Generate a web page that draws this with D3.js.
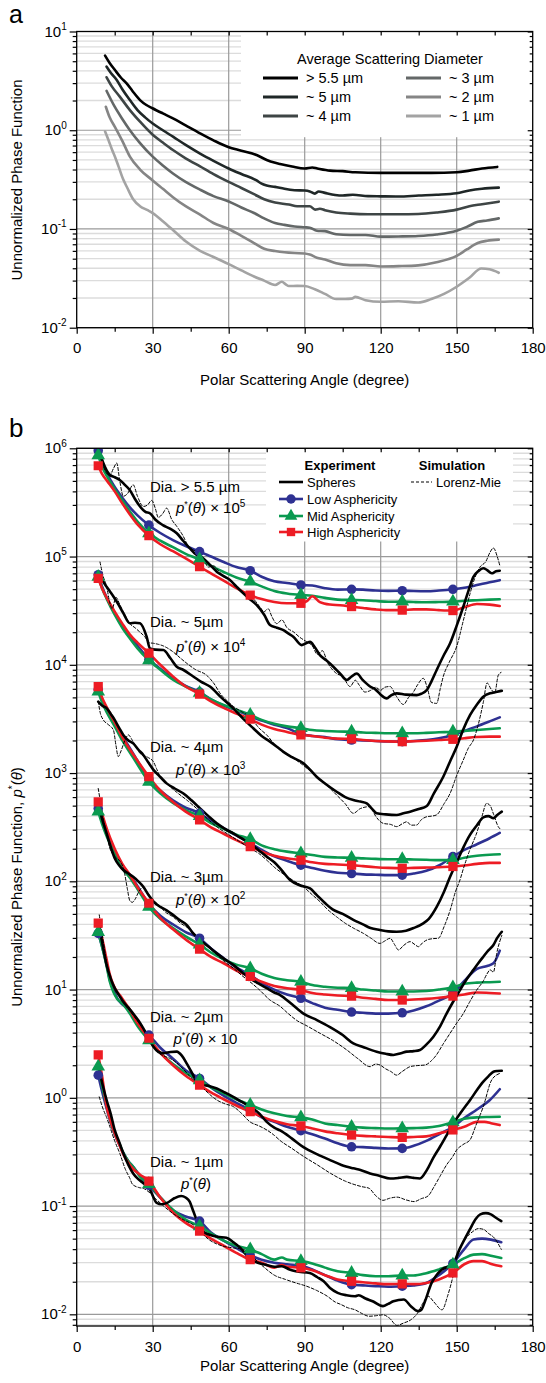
<!DOCTYPE html>
<html lang="en">
<head>
<meta charset="UTF-8">
<title>Phase function</title>
<style>
  body { margin: 0; background: #fff; }
  svg { display: block; }
</style>
</head>
<body>
<script src="https://d3js.org/d3.v7.min.js"></script>
<script>
// ---------- panel a : average scattering diameter ----------
var aLabels = ["> 5.5 \u00b5m", "~ 5 \u00b5m", "~ 4 \u00b5m", "~ 3 \u00b5m", "~ 2 \u00b5m", "~ 1 \u00b5m"];
var aColors = ["#000000", "#1f2727", "#3e4545", "#646868", "#858585", "#a3a3a3"];

var a55 = [[11.2,5.7],[13,4.8],[15.1,4.07],[17.5,3.4],[19.7,2.98],[22,2.5],[25,2.02],[27.5,1.8],[29.9,1.67],[34,1.48],[38,1.32],[43,1.12],[48.7,0.93],[54,0.79],[59.8,0.676],[65,0.62],[71,0.561],[75,0.5],[78,0.47],[80.3,0.455],[85,0.43],[90,0.41],[93,0.42],[95,0.41],[100,0.39],[105,0.385],[110,0.375],[120,0.37],[130,0.37],[140,0.37],[150,0.375],[155,0.39],[160,0.41],[166,0.425]];
var a5 = [[11.8,4.4],[13.5,3.8],[15.8,3.23],[18,2.6],[21,2.02],[24,1.6],[27,1.35],[30,1.17],[34,1.0],[38,0.86],[43,0.71],[48.7,0.58],[54,0.49],[60,0.41],[65,0.36],[71,0.31],[72.8,0.289],[75,0.275],[78.3,0.267],[82,0.255],[86,0.247],[90,0.245],[92,0.24],[94,0.228],[95.5,0.24],[98,0.232],[102,0.221],[105,0.218],[109,0.222],[115,0.215],[120,0.214],[127,0.213],[135,0.218],[142,0.222],[150,0.23],[155,0.245],[160,0.255],[166.6,0.262]];
var a4 = [[11.8,3.44],[14,2.75],[17,2.19],[21,1.6],[25,1.22],[30,0.9],[34,0.75],[38,0.63],[43,0.52],[48.7,0.43],[54,0.36],[60,0.3],[65,0.26],[70,0.225],[74,0.2],[78.3,0.185],[83.8,0.177],[87,0.17],[90,0.17],[92,0.17],[94.1,0.157],[96,0.16],[98,0.155],[102.4,0.147],[108,0.143],[115,0.141],[120,0.141],[127,0.141],[134.8,0.142],[142,0.147],[150,0.157],[155,0.17],[160,0.178],[166.6,0.189]];
var a3 = [[11.8,2.5],[15,1.73],[18,1.3],[21,1.0],[25,0.74],[30,0.54],[34,0.44],[38,0.365],[43,0.3],[48.7,0.25],[54,0.215],[60,0.19],[65,0.165],[70,0.145],[74,0.128],[78.3,0.115],[82,0.11],[86,0.106],[90,0.104],[92,0.103],[94.8,0.096],[98,0.095],[102.4,0.0885],[108,0.087],[114,0.087],[120,0.0836],[127,0.084],[134.8,0.085],[142,0.088],[150,0.096],[154,0.105],[158.3,0.118],[162,0.122],[166.6,0.128]];
var a2 = [[11.5,1.73],[13,1.35],[15,1.09],[18,0.78],[21,0.54],[25,0.4],[30,0.31],[34,0.255],[38,0.21],[43,0.17],[48.7,0.14],[54,0.115],[60,0.1],[65,0.085],[70,0.072],[74,0.063],[78.3,0.0598],[82,0.058],[86,0.057],[90,0.0565],[92,0.055],[94.8,0.0512],[98,0.049],[102.4,0.0449],[108,0.043],[114,0.043],[120,0.0417],[127,0.042],[134.8,0.0428],[142,0.046],[150,0.0533],[154,0.062],[158.3,0.072],[162,0.076],[166.6,0.078]];
var a1 = [[11.2,0.97],[12.5,0.8],[14,0.63],[15.1,0.54],[16.5,0.43],[18.3,0.32],[20,0.26],[22.3,0.2],[25,0.17],[28,0.155],[30,0.145],[34,0.12],[38.3,0.096],[43,0.075],[48.7,0.06],[54,0.052],[60,0.044],[65,0.038],[70,0.033],[74,0.03],[78.3,0.0271],[81,0.0292],[82.5,0.0275],[83.8,0.0264],[87,0.0265],[90,0.0264],[94,0.0245],[98,0.022],[102.4,0.0195],[106,0.0195],[108.5,0.0197],[110,0.0205],[114,0.019],[120,0.0183],[127,0.0185],[134.8,0.018],[140,0.0195],[145,0.022],[150,0.026],[155,0.032],[159.7,0.0398],[163,0.039],[166.6,0.036]];

// ---------- panel b : six size groups ----------
var markerAngles = [8.5, 28.5, 48.5, 68.5, 88.5, 108.5, 128.5, 148.5];
var groupTitles = ["Dia. > 5.5 \u00b5m", "Dia. ~ 5\u00b5m", "Dia. ~ 4\u00b5m", "Dia. ~ 3\u00b5m", "Dia. ~ 2\u00b5m", "Dia. ~ 1\u00b5m"];
var groupFactors = ["5", "4", "3", "2", "", null];

// > 5.5 um (x 1e5)
var g1Blue = [[8.5,9.5e5],[10,7.5e5],[12,5.8e5],[15,4.4e5],[18,3.5e5],[21,2.85e5],[24,2.4e5],[28.5,1.95e5],[33,1.65e5],[38,1.42e5],[43,1.25e5],[48.5,1.11e5],[53,1e5],[58,8.9e4],[63,8e4],[68.5,7.4e4],[73,6.5e4],[78,5.9e4],[83,5.7e4],[88.5,5.46e4],[93,5.4e4],[98,5.1e4],[103,4.95e4],[108.5,4.98e4],[113,4.95e4],[118,4.85e4],[123,4.82e4],[128.5,4.84e4],[133,4.8e4],[138,4.78e4],[143,4.85e4],[148.5,4.98e4],[153,5.15e4],[158,5.45e4],[163,5.8e4],[167,6.05e4]];
var g1Green = [[8.5,8.6e5],[10,6.8e5],[12,5.5e5],[15,4.2e5],[18,3.3e5],[21,2.6e5],[24,2.1e5],[28.5,1.64e5],[33,1.4e5],[38,1.22e5],[43,1.06e5],[48.5,9.4e4],[53,8.2e4],[58,7.2e4],[63,6.4e4],[68.5,5.86e4],[73,5.3e4],[78,4.8e4],[83,4.55e4],[88.5,4.41e4],[93,4.35e4],[98,4.15e4],[103,4e4],[108.5,3.97e4],[113,3.95e4],[118,3.88e4],[123,3.82e4],[128.5,3.83e4],[133,3.8e4],[138,3.78e4],[143,3.8e4],[148.5,3.83e4],[153,3.9e4],[158,3.95e4],[163,4e4],[167,4.03e4]];
var g1Red = [[8.5,6.9e5],[10,5.8e5],[12,5e5],[15,4e5],[18,3.1e5],[21,2.45e5],[24,1.98e5],[28.5,1.56e5],[33,1.3e5],[38,1.12e5],[43,9.6e4],[48.5,8.05e4],[53,7e4],[58,6e4],[63,5.1e4],[68.5,4.41e4],[73,4.05e4],[78,3.8e4],[83,3.7e4],[88.5,3.7e4],[91,3.9e4],[93,4.3e4],[96,3.8e4],[100,3.6e4],[104,3.55e4],[108.5,3.45e4],[113,3.35e4],[118,3.25e4],[123,3.2e4],[128.5,3.2e4],[133,3.25e4],[138,3.25e4],[143,3.2e4],[148.5,3.17e4],[153,3.4e4],[158,3.65e4],[163,3.6e4],[167,3.49e4]];
var g1Sphere = [[9,9.3e5],[10.5,7.3e5],[13,5.7e5],[15,5.4e5],[17,5.1e5],[19,4.6e5],[21,4.1e5],[23,3.4e5],[25,2.9e5],[27,2.6e5],[29,2.5e5],[31,2.2e5],[34,1.95e5],[37,1.8e5],[39.5,1.64e5],[42,1.4e5],[44.7,1.19e5],[47,1.05e5],[50,9.6e4],[53,8.2e4],[55.3,7.25e4],[58,6.6e4],[60.5,6.07e4],[63,5.3e4],[65.8,4.57e4],[68,4.1e4],[71,3.57e4],[74,2.9e4],[76.3,2.33e4],[79,2.2e4],[81.6,2.09e4],[83.5,1.95e4],[85.5,1.82e4],[88.8,1.52e4],[92.1,1.63e4],[94,1.45e4],[96,1.23e4],[98.5,1.1e4],[101.3,9.6e3],[104,8.3e3],[106.6,7.24e3],[108.5,7.8e3],[110.5,8.3e3],[113,7.2e3],[115.8,6.3e3],[118,5.9e3],[120,5.3e3],[122.4,4.9e3],[124,5.2e3],[126.3,5.45e3],[130,5.3e3],[134.2,5.25e3],[136,5.4e3],[138.2,5.85e3],[140,7e3],[142.1,8.95e3],[144.7,1.2e4],[147.4,1.58e4],[150,2.3e4],[152.6,3.44e4],[154.6,4.8e4],[156.6,6.5e4],[158.5,7.3e4],[160.5,7.8e4],[162,7.5e4],[163.8,7e4],[165.5,7.3e4],[167,7.4e4]];
var g1Mie = [[8.5,9e5],[10,7.5e5],[11.5,6e5],[13,5.6e5],[14.5,6.5e5],[15.8,7.3e5],[17,5e5],[18.4,3.6e5],[20,3.8e5],[22.3,4.6e5],[24,3.6e5],[26.3,2.9e5],[28,3e5],[29.6,3.3e5],[31,2.8e5],[32.2,2.3e5],[34,2.5e5],[35.5,2.8e5],[37.5,2.2e5],[39.5,1.9e5],[42,1.55e5],[44,1.25e5],[46,1.15e5],[48,1.1e5],[50,9.5e4],[52,8e4],[54,8.2e4],[56,7.4e4],[58,6.5e4],[60,6.2e4],[62,5.6e4],[64,5.1e4],[66,4.6e4],[68,4.2e4],[70,4e4],[72,3.5e4],[74,3.1e4],[75.6,3.3e4],[77,2.8e4],[79,2.4e4],[81,2.6e4],[83,2.2e4],[85.5,2.02e4],[88,1.8e4],[90.8,1.63e4],[93,1.5e4],[95,1.25e4],[97,1.35e4],[99,1.05e4],[101,9e3],[102.6,8.3e3],[105,7.8e3],[107.9,6.3e3],[110,7.2e3],[111.5,6.5e3],[113.8,5.6e3],[116,5.8e3],[118,6.2e3],[120,5.8e3],[121.5,6.2e3],[123.7,6.3e3],[126,5.2e3],[129,4.3e3],[131,5e3],[132.9,5.6e3],[134.5,6.5e3],[136.8,7.5e3],[138.5,6e3],[140,4.5e3],[142.1,4.4e3],[143.5,6e3],[144.7,7.8e3],[147,1.05e4],[150,1.48e4],[152.5,2.5e4],[155.3,4.57e4],[157,6.2e4],[159.2,8e4],[161.5,9e4],[163.2,1.1e5],[164.5,1.2e5],[166,1e5],[167,8.3e4]];

// ~ 5 um (x 1e4)
var g2Blue = [[8.5,6.8e4],[10,5.3e4],[12,4.1e4],[15,3e4],[18,2.3e4],[21,1.85e4],[24,1.5e4],[28.5,1.12e4],[33,9.2e3],[38,7.5e3],[43,6.4e3],[48.5,5.6e3],[53,4.8e3],[58,4.2e3],[63,3.8e3],[68.5,3.35e3],[73,3.05e3],[78,2.8e3],[83,2.6e3],[88.5,2.3e3],[93,2.2e3],[98,2.15e3],[103,2.05e3],[108.5,2.02e3],[113,2e3],[118,1.98e3],[123,1.96e3],[128.5,1.95e3],[133,1.98e3],[138,2.02e3],[143,2.1e3],[148.5,2.25e3],[153,2.45e3],[158,2.7e3],[163,3e3],[167,3.27e3]];
var g2Green = [[8.5,6.5e4],[10,5.1e4],[12,4e4],[15,2.9e4],[18,2.2e4],[21,1.75e4],[24,1.42e4],[28.5,1.1e4],[33,9e3],[38,7.3e3],[43,6.3e3],[48.5,5.5e3],[53,4.8e3],[58,4.25e3],[63,3.85e3],[68.5,3.45e3],[73,3.1e3],[78,2.85e3],[83,2.7e3],[88.5,2.6e3],[93,2.5e3],[98,2.45e3],[103,2.42e3],[108.5,2.41e3],[113,2.37e3],[118,2.35e3],[123,2.33e3],[128.5,2.33e3],[133,2.33e3],[138,2.35e3],[143,2.38e3],[148.5,2.41e3],[153,2.45e3],[158,2.5e3],[163,2.55e3],[167,2.59e3]];
var g2Red = [[8.5,6.3e4],[10,5.1e4],[12,4.1e4],[15,3.1e4],[18,2.4e4],[21,1.9e4],[24,1.6e4],[28.5,1.28e4],[33,1e4],[38,7.8e3],[43,6.3e3],[48.5,5.37e3],[53,4.6e3],[58,4e3],[63,3.55e3],[68.5,3.14e3],[73,2.8e3],[78,2.55e3],[83,2.4e3],[88.5,2.25e3],[93,2.2e3],[98,2.12e3],[103,2.08e3],[108.5,2.07e3],[113,2.02e3],[118,1.98e3],[123,1.96e3],[128.5,1.95e3],[133,1.97e3],[138,1.99e3],[143,2.02e3],[148.5,2.05e3],[153,2.1e3],[158,2.15e3],[163,2.17e3],[167,2.17e3]];
var g2Sphere = [[9.2,6.5e4],[11,5.6e4],[13,4.8e4],[14.5,4.27e4],[16.5,3.6e4],[18.4,3e4],[21,2.42e4],[23,2.45e4],[25,2.42e4],[27.6,1.82e4],[28.9,1.42e4],[31,1.38e4],[34.2,1.37e4],[37,1.15e4],[39.5,9.6e3],[42,9e3],[46,7.8e3],[49,7e3],[52.6,6.3e3],[57,5e3],[61.8,3.96e3],[65,3.3e3],[69.7,2.59e3],[73,2.2e3],[76.3,1.95e3],[79,1.75e3],[81.6,1.57e3],[85,1.4e3],[89.5,1.23e3],[92,1.08e3],[94.7,925],[98,800],[102.6,672],[106,600],[109.2,564],[112,545],[114.5,525],[116.5,470],[118.4,425],[122,415],[126.3,410],[129,425],[131.6,440],[135,465],[138.2,496],[141,650],[144.7,925],[147.5,1.3e3],[150,1.75e3],[152.5,2.5e3],[155.3,3.44e3],[158,4.3e3],[160.5,5.07e3],[163.2,5.45e3],[165.5,5.6e3],[167.8,5.76e3]];
var g2Mie = [[9.2,8.9e4],[10.5,6.5e4],[11.8,5.3e4],[13,3.8e4],[14,3.3e4],[15.5,4.2e4],[17,3.6e4],[19,2.9e4],[21,2.4e4],[23,2.2e4],[25,2e4],[27,1.8e4],[28.5,1.6e4],[30.3,1.58e4],[32,1.55e4],[34,1.5e4],[36,1.42e4],[38,1.32e4],[41,1.15e4],[43.5,1.03e4],[47,9e3],[51.3,8e3],[54,6.8e3],[57,5.3e3],[59.2,4.7e3],[62,4.1e3],[65,3.7e3],[68.4,3.3e3],[72,2.6e3],[75,2.25e3],[78.9,1.75e3],[83,1.5e3],[86,1.35e3],[89,1.2e3],[93.4,993],[98,800],[102.6,627],[106,520],[109.2,425],[112,470],[115.8,490],[118,400],[121,343],[124,335],[126.3,320],[128.5,340],[130.3,355],[132,330],[134.2,331],[136,370],[138.2,395],[140,400],[142,410],[145,520],[147.4,650],[150,950],[152.6,1.32e3],[154.6,1.7e3],[156.6,2.02e3],[158.5,2.8e3],[160.5,4.5e3],[162,6.8e3],[163.5,6e3],[165,5.5e3],[166.4,8e3],[167.5,8.5e3]];

// ~ 4 um (x 1e3)
var g3Blue = [[8.5,5.9e3],[10,4.8e3],[12,3.9e3],[15,2.9e3],[18,2.2e3],[21,1.7e3],[24,1.3e3],[28.5,880],[33,690],[38,560],[43,480],[48.5,425],[53,360],[58,310],[63,265],[68.5,225],[73,195],[78,170],[83,155],[88.5,141],[93,133],[98,125],[103,120],[108.5,118],[113,116],[118,115],[123,114],[128.5,114],[133,118],[138,125],[143,140],[148.5,169],[153,195],[158,220],[163,250],[167,280]];
var g3Green = [[8.5,5.65e3],[10,4.5e3],[12,3.6e3],[15,2.7e3],[18,2e3],[21,1.55e3],[24,1.2e3],[28.5,832],[33,650],[38,530],[43,455],[48.5,400],[53,345],[58,305],[63,270],[68.5,245],[73,215],[78,198],[83,188],[88.5,181],[93,175],[98,168],[103,166],[108.5,165],[113,163],[118,161],[123,160],[128.5,160],[133,159],[138,158],[143,157],[148.5,157],[153,165],[158,172],[163,176],[167,178]];
var g3Red = [[8.5,6.28e3],[10,5e3],[12,4e3],[15,2.95e3],[18,2.15e3],[21,1.65e3],[24,1.3e3],[28.5,926],[33,690],[38,540],[43,440],[48.5,369],[53,315],[58,275],[63,240],[68.5,209],[73,188],[78,172],[83,163],[88.5,157],[93,150],[98,145],[103,143],[108.5,141],[113,138],[118,135],[123,133],[128.5,132],[133,133],[138,134],[143,135],[148.5,137],[153,140],[158,145],[163,148],[167,148]];
var g3Sphere = [[8.5,4.57e3],[10,4.2e3],[11.8,3.98e3],[13.5,3.5e3],[15,3.1e3],[16.8,2.6e3],[18.4,2.25e3],[20.4,2e3],[22.3,1.88e3],[24.3,1.65e3],[26.3,1.47e3],[28.3,1.25e3],[30.3,1.07e3],[33,920],[35.5,803],[38.7,720],[42,650],[45.3,560],[48.7,472],[52,400],[55.3,343],[58.5,305],[61.8,277],[65,250],[68.4,224],[71.7,195],[75,169],[78,150],[80.3,132],[84.2,103],[88,92],[92.1,86],[94.7,75],[98,63],[101,55],[105,50],[109.2,44],[113,40],[116,37],[119.7,35.5],[123,34.5],[126.3,34.2],[130,35],[133,37],[136.8,40.9],[139,45],[142.1,58],[145,80],[147.4,110],[150,150],[152.6,205],[155.3,270],[158,330],[160.5,390],[162.5,400],[164.5,382],[166,410],[167.8,440]];
var g3Mie = [[8.5,4.6e3],[9.3,3.6e3],[10.5,3.1e3],[12.5,2.8e3],[14.5,2.5e3],[15.5,1.8e3],[16.4,1.42e3],[17.5,1.6e3],[19,2e3],[20.4,2.25e3],[22,2e3],[25,1.52e3],[28,1.4e3],[30.3,1.27e3],[31.5,1.1e3],[32.9,926],[36,780],[40,650],[44,550],[48.7,440],[52,370],[56,310],[60,270],[64,235],[68,205],[72,180],[75,157],[78,135],[82,115],[86,100],[89.5,89],[93,75],[96,65],[99,55],[102.6,47],[106,41],[109.2,37],[113.2,33],[116,30],[119.7,26.7],[121.5,28],[123.7,29.8],[125.5,26],[127,23.2],[129,25.5],[131.6,27.7],[133.5,26],[134.9,24.9],[136.5,27],[138.2,28.7],[140.5,29.5],[142.8,29.8],[145,38],[147.4,54],[149.5,80],[151.3,103],[152.6,130],[155,190],[157.9,280],[160,400],[161.8,525],[163.2,500],[164.5,420],[166.4,320],[167.5,300]];

// ~ 3 um (x 1e2)
var g4Blue = [[8.5,470],[10,360],[12,270],[15,190],[18,140],[21,115],[24,90],[28.5,62],[33,48],[38,40],[43,34],[48.5,29.8],[53,24],[58,19.5],[63,16],[68.5,13.6],[73,11.5],[78,10],[83,9],[88.5,8.3],[93,7.5],[98,6.8],[103,6.5],[108.5,6.2],[113,6.1],[118,6],[123,6],[128.5,6.1],[133,6.4],[138,7],[143,7.9],[148.5,9.2],[153,12],[158,15.5],[162,16.5],[164.5,17.5],[167,22.9]];
var g4Green = [[8.5,440],[10,340],[12,255],[15,180],[18,132],[21,108],[24,85],[28.5,58],[33,45],[38,37],[43,31],[48.5,26],[53,22],[58,19],[63,17],[68.5,15.7],[73,14],[78,12.8],[83,12.2],[88.5,11.8],[93,11],[98,10.6],[103,10.4],[108.5,10.3],[113,10],[118,9.8],[123,9.6],[128.5,9.6],[133,9.6],[138,9.7],[143,10],[148.5,10.5],[153,11.3],[158,11.6],[163,11.7],[167,11.8]];
var g4Red = [[8.5,543],[10,420],[12,300],[15,200],[18,145],[21,115],[24,88],[28.5,62.7],[33,46],[38,36],[43,29],[48.5,23.6],[53,20],[58,17.5],[63,15],[68.5,13.2],[73,11.8],[78,10.8],[83,10.3],[88.5,9.9],[93,9.3],[98,9],[103,8.8],[108.5,8.7],[113,8.4],[118,8.2],[123,8],[128.5,8],[133,8.1],[138,8.2],[143,8.4],[148.5,8.7],[153,9],[158,9.4],[163,9.3],[167,9.2]];
var g4Sphere = [[8.5,525],[10,380],[11.8,277],[13.5,205],[15,163],[16.8,140],[18.4,127],[20.4,118],[22.3,110],[24.3,100],[26.3,89],[28.3,75],[30.3,65],[33,58],[35.5,54],[38,49],[40.5,44],[43.4,39.5],[46,33],[48.7,28.7],[52,25],[55.3,21.6],[58.5,19],[61.8,16.9],[65,14.6],[68.4,12.7],[71.7,11.4],[75,10.3],[78,9.4],[80.3,8.9],[85,7.3],[89.5,6],[95,5.2],[100,4.5],[105,3.8],[109.2,3.18],[113,2.95],[118.4,2.67],[122,2.55],[125,2.49],[128,2.58],[130.3,2.67],[133,2.7],[135.5,2.77],[138,3.1],[140.8,3.67],[143.5,4.6],[146,6],[148.7,7.8],[151.3,9.9],[154,12.5],[156.6,15.2],[158.5,17.5],[160.5,20.1],[162.5,23],[164.5,25.8],[166,30],[167.8,34.2]];
var g4Mie = [[8.5,720],[9.5,520],[10.5,380],[12,260],[13.1,202],[15,170],[17.7,146],[19,115],[20,85],[21,66],[22,64],[23,68],[24.5,80],[26.3,89],[28,78],[30,68],[32.5,60],[35,52],[38,47],[41,41],[44,37],[48.7,29],[52,24.5],[55.3,21],[58.5,18],[61.8,15.8],[65,13.6],[68.4,11.8],[72,10],[76.3,8],[80.3,7],[83.5,6],[86.8,5.2],[91,4.6],[96,3.95],[101,3.4],[106.6,2.77],[111,2.3],[115.8,1.94],[118,2.05],[119.7,2.01],[122,1.85],[124,1.75],[126.3,1.62],[128.5,1.75],[131.6,1.94],[134,1.98],[137.5,2.01],[140,2.2],[142,2.49],[144.5,3.1],[147.4,3.95],[150,4.9],[152.6,6],[155,7.6],[157.9,9.9],[160.5,12],[162,14],[163.2,15.2],[164.5,14.5],[165.8,21.6],[167.8,31.6]];

// ~ 2 um (x 10)
var g5Blue = [[8.5,33],[10,25],[11.8,17],[13,12.5],[14.5,10],[16,8.3],[17.5,7.5],[19,7],[21,6.2],[24,4.8],[28.5,3.8],[33,2.9],[38,2.3],[43,1.8],[48.5,1.51],[53,1.25],[58,1.05],[63,0.9],[68.5,0.77],[73,0.66],[78,0.6],[83,0.54],[88.5,0.497],[93,0.46],[98,0.42],[103,0.38],[108.5,0.353],[113,0.35],[118,0.345],[123,0.34],[128.5,0.341],[133,0.36],[138,0.4],[143,0.46],[148.5,0.54],[153,0.65],[158,0.78],[163,0.95],[167,1.2]];
var g5Green = [[8.5,34],[10,25],[11.8,16.5],[13,12],[14.5,9.5],[16,8.2],[17.5,7.6],[19,7],[21,6],[24,4.6],[28.5,3.4],[33,2.6],[38,2.05],[43,1.7],[48.5,1.45],[53,1.25],[58,1.1],[63,0.97],[68.5,0.86],[73,0.78],[78,0.72],[83,0.68],[88.5,0.66],[93,0.63],[98,0.58],[103,0.56],[108.5,0.54],[113,0.53],[118,0.525],[123,0.52],[128.5,0.522],[133,0.525],[138,0.53],[143,0.55],[148.5,0.594],[153,0.64],[158,0.66],[163,0.665],[167,0.668]];
var g5Red = [[8.5,41],[10,30],[11.8,19],[13,14],[14.5,11],[16,9.5],[17.5,8.6],[19,7.6],[21,6.5],[24,4.9],[28.5,3.55],[33,2.6],[38,2],[43,1.6],[48.5,1.31],[53,1.12],[58,0.97],[63,0.85],[68.5,0.745],[73,0.67],[78,0.61],[83,0.57],[88.5,0.55],[93,0.52],[98,0.49],[103,0.47],[108.5,0.453],[113,0.445],[118,0.44],[123,0.435],[128.5,0.431],[133,0.435],[138,0.44],[143,0.47],[148.5,0.505],[153,0.54],[158,0.6],[161,0.6],[164,0.58],[167,0.56]];
var g5Sphere = [[8.9,38],[10.5,24],[11.8,16.9],[13.5,12.5],[15,10.3],[16.8,8.8],[18.4,7.7],[20.4,6.8],[22.3,6],[24.3,5.2],[26.3,4.38],[28.3,3.6],[30.3,2.96],[32.3,2.65],[34.2,2.58],[37,2.65],[39.5,2.67],[41.5,2.45],[43.4,2.08],[45.5,1.7],[47.4,1.41],[50,1.32],[52.5,1.28],[55.3,1.22],[58.5,1.12],[61.8,1.02],[65,0.92],[68.4,0.83],[71.7,0.73],[75,0.6],[78,0.53],[80.3,0.5],[85,0.42],[89.5,0.35],[95,0.3],[100,0.266],[104.5,0.24],[109.2,0.223],[112,0.215],[115.8,0.2],[119.7,0.19],[123.7,0.18],[127,0.182],[130.3,0.186],[133,0.182],[135.5,0.18],[138.2,0.215],[140.8,0.28],[143.4,0.353],[146,0.45],[148.7,0.58],[152,0.75],[155.3,0.955],[158,1.18],[160.5,1.41],[162.5,1.58],[164.5,1.74],[166,1.77],[167.8,1.78]];
var g5Mie = [[8.9,49],[10.5,28],[11.8,18],[13.5,12.5],[15,10.5],[16.8,8.8],[18.4,7.6],[20.4,6.6],[22.3,5.8],[24.3,5],[26.3,4.3],[28.3,3.6],[30.3,3],[32.3,2.6],[34.2,2.45],[37,2.3],[39.5,2.1],[42,1.85],[45,1.55],[48.7,1.31],[52,1.1],[55.3,0.955],[58.5,0.88],[61.8,0.83],[65,0.72],[68.4,0.6],[72,0.55],[75,0.505],[78,0.45],[80.3,0.403],[85,0.34],[89.3,0.29],[95,0.24],[100.3,0.2],[106,0.17],[112.6,0.151],[115.4,0.146],[118,0.125],[120.9,0.113],[123.5,0.118],[126.4,0.121],[130,0.114],[133.2,0.11],[136,0.117],[138.7,0.124],[141,0.15],[143.5,0.19],[146,0.24],[148.4,0.286],[150,0.33],[152.5,0.37],[155.3,0.41],[157.5,0.55],[160.5,0.83],[163.8,1.46],[167,1.68]];

// ~ 1 um (x 1)
var g6Blue = [[8.5,1.62],[10,1.15],[11.8,0.8],[13.5,0.58],[15,0.46],[16.8,0.37],[18.4,0.31],[20.4,0.26],[22.3,0.23],[25,0.19],[28.5,0.155],[33,0.12],[38.5,0.09],[43,0.08],[48.5,0.0726],[53,0.057],[58,0.048],[63,0.041],[68.5,0.035],[73,0.032],[78,0.03],[83,0.029],[88.5,0.0282],[93,0.026],[98,0.023],[103,0.0205],[108.5,0.0188],[113,0.0185],[118,0.0182],[123,0.018],[128.5,0.0182],[133,0.0185],[138,0.0195],[143,0.023],[148.5,0.0295],[153,0.04],[156.6,0.049],[160,0.05],[163.5,0.049],[167.6,0.0464]];
var g6Green = [[8.5,1.94],[10,1.3],[11.8,0.85],[13.5,0.6],[15,0.47],[16.8,0.38],[18.4,0.31],[20.4,0.26],[22.3,0.23],[25,0.187],[28.5,0.16],[33,0.12],[38.5,0.09],[43,0.075],[48.5,0.065],[53,0.056],[58,0.048],[63,0.043],[68.5,0.0398],[73,0.036],[78,0.032],[81,0.0335],[83,0.032],[88.5,0.031],[93,0.0295],[98,0.027],[103,0.025],[108.5,0.0241],[113,0.023],[118,0.0225],[123,0.0225],[128.5,0.0228],[133,0.0228],[138,0.024],[143,0.026],[148.5,0.0288],[153,0.033],[156.6,0.0356],[160,0.036],[164,0.0345],[167.6,0.0332]];
var g6Red = [[8.5,2.49],[10,1.6],[11.8,0.83],[13.5,0.6],[15,0.47],[16.8,0.37],[18.4,0.3],[20.4,0.25],[22.3,0.22],[25,0.195],[28.5,0.17],[33,0.12],[38.5,0.085],[43,0.07],[48.5,0.0587],[53,0.05],[58,0.043],[63,0.037],[68.5,0.032],[73,0.03],[78,0.027],[81,0.0285],[83,0.0275],[88.5,0.0269],[93,0.0255],[98,0.023],[103,0.021],[108.5,0.0202],[113,0.0198],[118,0.0193],[123,0.019],[128.5,0.0191],[133,0.019],[138,0.0195],[143,0.021],[148.5,0.0241],[153,0.029],[156.6,0.031],[160,0.031],[164,0.029],[167.6,0.0278]];
var g6Sphere = [[8.9,1.81],[10.3,1.3],[11.8,0.955],[13.5,0.7],[15,0.505],[16.8,0.39],[18.4,0.307],[20.4,0.24],[22.3,0.2],[24,0.18],[26,0.165],[28.8,0.143],[31.6,0.107],[33.5,0.104],[35.7,0.107],[38.5,0.118],[41.2,0.124],[43,0.12],[44.6,0.11],[46,0.09],[48.1,0.0677],[50,0.058],[52.2,0.0547],[55.5,0.052],[59.1,0.051],[62,0.046],[64.6,0.0411],[68.7,0.032],[71.5,0.03],[74.2,0.0288],[78,0.0275],[81,0.0278],[84,0.026],[86.5,0.025],[92,0.0241],[95,0.022],[97.5,0.0202],[100,0.0175],[103,0.0158],[106.5,0.015],[109.9,0.0147],[111.3,0.015],[114,0.014],[116.8,0.0132],[120.9,0.0119],[123,0.0125],[125,0.0132],[129.1,0.0137],[131.9,0.0119],[134.6,0.0107],[136,0.011],[137.4,0.013],[140.1,0.0195],[142,0.023],[144.2,0.026],[148.4,0.0288],[151.1,0.0398],[155.2,0.0608],[157.5,0.076],[159.3,0.0838],[161.5,0.086],[163.5,0.0838],[165.5,0.078],[167.6,0.0726]];
var g6Mie = [[8.9,1.02],[10.5,0.78],[11.8,0.66],[13.1,0.54],[15,0.4],[17,0.307],[19.2,0.219],[21,0.18],[22,0.159],[24.7,0.148],[26.5,0.145],[28.8,0.133],[31.5,0.115],[34.3,0.1],[38.5,0.0838],[42.5,0.074],[46.7,0.0653],[49.5,0.056],[52.2,0.049],[55,0.045],[57.7,0.0427],[62,0.041],[65.9,0.0397],[70,0.033],[74.2,0.0269],[78,0.023],[82.4,0.021],[86.5,0.0195],[90.7,0.0182],[95,0.0165],[98.9,0.0147],[102,0.013],[104.4,0.0123],[107,0.0115],[109.9,0.011],[112.5,0.0102],[115.4,0.0096],[118,0.0097],[120.9,0.0099],[123.5,0.0092],[126.4,0.0079],[129,0.0083],[131.9,0.0089],[134.6,0.0103],[136.5,0.0125],[138.7,0.0147],[141,0.013],[144.2,0.011],[146.5,0.015],[148.4,0.0217],[151.1,0.0398],[153.5,0.05],[156.6,0.0587],[158.5,0.062],[160.7,0.0608],[162.5,0.056],[164.8,0.0509],[167.6,0.0398]];

var blue = "#2e3192", green = "#0a9a50", red = "#ed1c24";
var font = "'Liberation Sans', Arial, Helvetica, sans-serif";

var svg = d3.select("body").append("svg")
  .attr("width", 546).attr("height", 1383)
  .style("font-family", font);

var xA = d3.scaleLinear().domain([0, 180]).range([76.7, 532.7]);
var yA = d3.scaleLog().domain([1e-2, 10]).range([327.7, 31.5]);
var xB = d3.scaleLinear().domain([0, 180]).range([76.7, 532.7]);
var yB = d3.scaleLog().domain([0.0078, 1e6]).range([1326, 448.3]);

function minorValues(y) {
  var dom = y.domain(), out = [];
  for (var d = -4; d <= 6; d++) {
    for (var k = 2; k <= 9; k++) {
      var v = k * Math.pow(10, d);
      if (v > dom[0] * 1.0001 && v < dom[1] * 0.9999) out.push(v);
    }
  }
  return out;
}
function decades(y) {
  var dom = y.domain(), out = [];
  for (var d = -4; d <= 6; d++) {
    var v = Math.pow(10, d);
    if (v >= dom[0] * 0.9999 && v <= dom[1] * 1.0001) out.push(v);
  }
  return out;
}

function grid(g, x, y, legendBox) {
  var x0 = x.range()[0], x1 = x.range()[1], yb = y.range()[0], yt = y.range()[1];
  g.selectAll(".minor").data(minorValues(y)).enter().append("line")
    .attr("x1", x0).attr("x2", x1).attr("y1", d => y(d)).attr("y2", d => y(d))
    .attr("stroke", "#dcdcdc").attr("stroke-width", 1.3);
  g.selectAll(".major").data(decades(y)).enter().append("line")
    .attr("x1", x0).attr("x2", x1).attr("y1", d => y(d)).attr("y2", d => y(d))
    .attr("stroke", "#9a9a9a").attr("stroke-width", 1.2);
  g.selectAll(".vg").data([30, 60, 90, 120, 150]).enter().append("line")
    .attr("x1", d => x(d)).attr("x2", d => x(d)).attr("y1", yt).attr("y2", yb)
    .attr("stroke", "#9a9a9a").attr("stroke-width", 1.2);
  g.append("rect").attr("x", legendBox[0]).attr("y", legendBox[1])
    .attr("width", legendBox[2]).attr("height", legendBox[3]).attr("fill", "#fff");
}

function axes(g, x, y, titleY) {
  var x0 = x.range()[0], x1 = x.range()[1], yb = y.range()[0], yt = y.range()[1];
  function style(sel) {
    sel.select(".domain").remove();
    sel.selectAll("line").attr("stroke", "#000").attr("stroke-width", 1.2);
    sel.attr("font-family", font).attr("font-size", 15);
    sel.selectAll("text").attr("fill", "#000");
  }
  g.append("g").attr("transform", "translate(0," + yb + ")")
    .call(d3.axisBottom(x).tickValues(d3.range(15, 180, 30)).tickSize(4).tickFormat("")).call(style);
  g.append("g").attr("transform", "translate(0," + yb + ")")
    .call(d3.axisBottom(x).tickValues(d3.range(0, 181, 30)).tickSize(6).tickPadding(9).tickFormat(d3.format("d"))).call(style);
  g.append("g").attr("transform", "translate(0," + yt + ")")
    .call(d3.axisBottom(x).tickValues(d3.range(15, 180, 15)).tickSize(4).tickFormat("")).call(style);
  g.append("g").attr("transform", "translate(" + x0 + ",0)")
    .call(d3.axisLeft(y).tickValues(minorValues(y)).tickSize(4).tickFormat("")).call(style);
  g.append("g").attr("transform", "translate(" + x0 + ",0)")
    .call(d3.axisLeft(y).tickValues(decades(y)).tickSize(7).tickFormat("")).call(style);
  g.append("g").attr("transform", "translate(" + x1 + ",0)")
    .call(d3.axisLeft(y).tickValues(minorValues(y)).tickSize(3).tickFormat("")).call(style);
  g.append("g").attr("transform", "translate(" + x1 + ",0)")
    .call(d3.axisLeft(y).tickValues(decades(y)).tickSize(5).tickFormat("")).call(style);
  // decade labels 10^n
  decades(y).forEach(function (v) {
    var t = g.append("text").attr("x", x0 - 10).attr("y", y(v) + 5)
      .attr("text-anchor", "end").attr("font-size", 15);
    t.append("tspan").text("10");
    t.append("tspan").attr("dy", -6.5).attr("font-size", 10).text(Math.round(Math.log10(v)));
  });
  g.append("rect").attr("x", x0).attr("y", yt).attr("width", x1 - x0).attr("height", yb - yt)
    .attr("fill", "none").attr("stroke", "#000").attr("stroke-width", 1.3);
  g.append("text").attr("x", (x0 + x1) / 2).attr("y", titleY).attr("text-anchor", "middle")
    .attr("font-size", 15).text("Polar Scattering Angle (degree)");
}

function drawLine(g, x, y, data, color, width, dash) {
  var line = d3.line().x(d => x(d[0])).y(d => y(d[1])).curve(d3.curveMonotoneX);
  g.append("path").datum(data).attr("d", line).attr("fill", "none")
    .attr("stroke", color).attr("stroke-width", width)
    .attr("stroke-linejoin", "round").attr("stroke-linecap", "round")
    .attr("stroke-dasharray", dash || null);
}
function drawMarkers(g, x, y, data, color, type, size) {
  var sym = d3.symbol().type(type).size(size);
  g.selectAll(null).data(data.filter(d => markerAngles.indexOf(d[0]) >= 0)).enter()
    .append("path").attr("d", sym)
    .attr("transform", d => "translate(" + x(d[0]) + "," + y(d[1]) + ")")
    .attr("fill", color);
}

// ================= panel a =================
var ga = svg.append("g");
grid(ga, xA, yA, [241, 32.2, 291, 105]);
var aSeries = [a1, a2, a3, a4, a5, a55];
aSeries.forEach(function (s, i) {
  drawLine(ga, xA, yA, s, aColors[5 - i], 2.6);
});
axes(ga, xA, yA, 385);
ga.append("text").attr("x", 9).attr("y", 22.5).attr("font-size", 25).text("a");
ga.append("text").attr("transform", "translate(21.5,180) rotate(-90)")
  .attr("text-anchor", "middle").attr("font-size", 15).text("Unnormalized Phase Function");
// legend a
ga.append("text").attr("x", 390).attr("y", 64).attr("text-anchor", "middle")
  .attr("font-size", 14.5).text("Average Scattering Diameter");
aLabels.forEach(function (lab, i) {
  var col = Math.floor(i / 3), row = i % 3;
  var lx = col === 0 ? 263 : 406, ly = 78 + row * 19;
  ga.append("line").attr("x1", lx).attr("x2", lx + 35).attr("y1", ly).attr("y2", ly)
    .attr("stroke", aColors[i]).attr("stroke-width", 2.8);
  ga.append("text").attr("x", lx + 43).attr("y", ly + 5).attr("font-size", 14.5).text(lab);
});

// ================= panel b =================
var gb = svg.append("g");
grid(gb, xB, yB, [266, 449.5, 247, 92]);
svg.append("clipPath").attr("id", "clipB").append("rect")
  .attr("x", 76.7).attr("y", 448.3).attr("width", 456).attr("height", 1326 - 448.3);
var plotB = gb.append("g").attr("clip-path", "url(#clipB)");

var groups = [
  [g1Blue, g1Green, g1Red, g1Sphere, g1Mie],
  [g2Blue, g2Green, g2Red, g2Sphere, g2Mie],
  [g3Blue, g3Green, g3Red, g3Sphere, g3Mie],
  [g4Blue, g4Green, g4Red, g4Sphere, g4Mie],
  [g5Blue, g5Green, g5Red, g5Sphere, g5Mie],
  [g6Blue, g6Green, g6Red, g6Sphere, g6Mie]
];
groups.forEach(function (s) {
  drawLine(plotB, xB, yB, s[0], blue, 2.6);
  drawLine(plotB, xB, yB, s[1], green, 2.6);
  drawLine(plotB, xB, yB, s[2], red, 2.6);
  drawLine(plotB, xB, yB, s[4], "#000", 1, "3,2");
  drawLine(plotB, xB, yB, s[3], "#000", 2.6);
});
groups.forEach(function (s) {
  drawMarkers(plotB, xB, yB, s[0], blue, d3.symbolCircle, 72);
  drawMarkers(plotB, xB, yB, s[1], green, d3.symbolTriangle, 80);
  drawMarkers(plotB, xB, yB, s[2], red, d3.symbolSquare, 85);
});

axes(gb, xB, yB, 1371);
gb.append("text").attr("x", 9).attr("y", 437).attr("font-size", 26).text("b");
var yt = gb.append("text").attr("transform", "translate(21.5,887) rotate(-90)")
  .attr("text-anchor", "middle").attr("font-size", 15);
yt.append("tspan").text("Unnormalized Phase Function, ");
yt.append("tspan").attr("font-style", "italic").text("p");
yt.append("tspan").attr("dy", -6).attr("font-size", 10).text("*");
yt.append("tspan").attr("dy", 6).text("(");
yt.append("tspan").attr("font-style", "italic").text("\u03b8");
yt.append("tspan").text(")");

// group annotations
var titleBase = [492, 627, 752, 882, 1022, 1167];
var factorBase = [513, 652, 775, 905, 1043.5, 1188.5];
groupTitles.forEach(function (t, i) {
  gb.append("text").attr("x", 150).attr("y", titleBase[i]).attr("font-size", 15).text(t);
  var f = groupFactors[i];
  var tx = gb.append("text").attr("x", f === null ? 181 : (f === "" ? 173.5 : 176))
    .attr("y", factorBase[i]).attr("font-size", 15);
  tx.append("tspan").attr("font-style", "italic").text("p");
  tx.append("tspan").attr("dy", -6).attr("font-size", 9).text("*");
  tx.append("tspan").attr("dy", 6).text("(");
  tx.append("tspan").attr("font-style", "italic").text("\u03b8");
  if (f === null) {
    tx.append("tspan").text(")");
  } else {
    tx.append("tspan").text(") \u00d7 10");
    if (f !== "") tx.append("tspan").attr("dy", -6.5).attr("font-size", 10).text(f);
  }
});

// legend b
gb.append("text").attr("x", 340).attr("y", 470).attr("text-anchor", "middle")
  .attr("font-size", 13).attr("font-weight", "bold").text("Experiment");
gb.append("text").attr("x", 452).attr("y", 470).attr("text-anchor", "middle")
  .attr("font-size", 13).attr("font-weight", "bold").text("Simulation");
var legRows = [
  ["Spheres", "#000", null],
  ["Low Asphericity", blue, d3.symbolCircle],
  ["Mid Asphericity", green, d3.symbolTriangle],
  ["High Asphericity", red, d3.symbolSquare]
];
var legY = [482, 499, 516, 532];
legRows.forEach(function (r, i) {
  gb.append("line").attr("x1", 279).attr("x2", 303).attr("y1", legY[i]).attr("y2", legY[i])
    .attr("stroke", r[1]).attr("stroke-width", 2.6);
  if (r[2]) gb.append("path").attr("d", d3.symbol().type(r[2]).size(70)())
    .attr("transform", "translate(291," + legY[i] + ")").attr("fill", r[1]);
  gb.append("text").attr("x", 307).attr("y", legY[i] + 4.5).attr("font-size", 13).text(r[0]);
});
gb.append("line").attr("x1", 411).attr("x2", 432).attr("y1", 482).attr("y2", 482)
  .attr("stroke", "#000").attr("stroke-width", 1).attr("stroke-dasharray", "3,2");
gb.append("text").attr("x", 436).attr("y", 486.5).attr("font-size", 13).text("Lorenz-Mie");
</script>
</body>
</html>
